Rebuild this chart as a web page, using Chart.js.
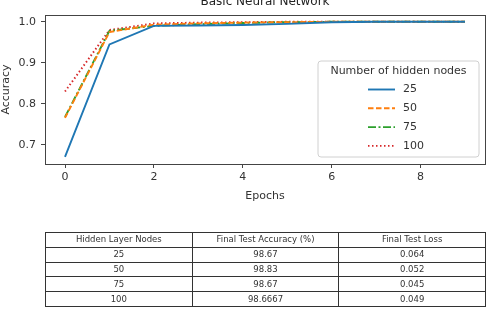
<!DOCTYPE html>
<html>
<head>
<meta charset="utf-8">
<script src="https://cdn.jsdelivr.net/npm/chart.js@4.4.0/dist/chart.umd.min.js"></script>
<style>
  html, body { margin: 0; padding: 0; background: #fff; }
  #wrap { position: relative; width: 492px; height: 313px; overflow: hidden; }
  #chart { position: absolute; left: 0; top: 0; }
  #results {
    position: absolute; left: 45px; top: 232px; width: 441px;
    table-layout: fixed;
    border-collapse: collapse; border: 1.5px solid #222;
    font-family: "DejaVu Sans", sans-serif; font-size: 8.5px; color: #333;
  }
  #results td { width: 33.33%; border: 1px solid #333; height: 13.8px; padding: 0; text-align: center; line-height: 13px; }
</style>
</head>
<body>
<div id="wrap">
  <canvas id="chart" width="492" height="313"></canvas>
  <table id="results"></table>
</div>
<script>
// data
const epochs = [0, 1, 2, 3, 4, 5, 6, 7, 8, 9];
const hiddenNodes = ['25', '50', '75', '100'];
const acc25  = [0.671, 0.945, 0.990, 0.991, 0.992, 0.995, 0.999, 1.0, 1.0, 1.0];
const acc50  = [0.766, 0.975, 0.993, 0.996, 0.998, 0.999, 1.0, 1.0, 1.0, 1.0];
const acc75  = [0.768, 0.978, 0.990, 0.994, 0.997, 0.999, 1.0, 1.0, 1.0, 1.0];
const acc100 = [0.830, 0.980, 0.996, 0.998, 0.999, 1.0, 1.0, 1.0, 1.0, 1.0];
const xTicks = [0, 2, 4, 6, 8];
const yTicks = [0.7, 0.8, 0.9, 1.0];

// summary table
const tableHeader = ['Hidden Layer Nodes', 'Final Test Accuracy (%)', 'Final Test Loss'];
const finalAccuracy = ['98.67', '98.83', '98.67', '98.6667'];
const finalLoss = ['0.064', '0.052', '0.045', '0.049'];

const colors = ['#1f77b4', '#ff7f0e', '#2ca02c', '#d62728'];
const dashes = [[], [5.5, 2.5], [8, 2.5, 2, 2.5], [1.5, 2.5]];
const series = [acc25, acc50, acc75, acc100];
const font = 'DejaVu Sans';

const table = document.getElementById('results');
const rows = [tableHeader].concat(hiddenNodes.map((n, i) => [n, finalAccuracy[i], finalLoss[i]]));
rows.forEach(r => {
  const tr = document.createElement('tr');
  r.forEach(c => { const td = document.createElement('td'); td.textContent = c; tr.appendChild(td); });
  table.appendChild(tr);
});

const framePlugin = {
  id: 'frame',
  afterDraw(chart) {
    const { ctx, chartArea: a } = chart;
    ctx.save();
    ctx.strokeStyle = '#444';
    ctx.lineWidth = 1;
    ctx.strokeRect(a.left + 0.5, a.top + 0.5, a.right - a.left, a.bottom - a.top);

    // title, partly above the canvas
    ctx.fillStyle = '#222';
    ctx.font = '12px "' + font + '"';
    ctx.textAlign = 'center';
    ctx.textBaseline = 'alphabetic';
    ctx.fillText('Basic Neural Network', (a.left + a.right) / 2, 5);

    // legend
    const bw = 161, bh = 96;
    const bx = a.right - 6 - bw, by = a.bottom - 7 - bh;
    ctx.beginPath();
    ctx.roundRect(bx, by, bw, bh, 3);
    ctx.fillStyle = 'rgba(255,255,255,0.8)';
    ctx.fill();
    ctx.strokeStyle = '#d0d0d0';
    ctx.stroke();
    ctx.fillStyle = '#333';
    ctx.font = '11px "' + font + '"';
    ctx.textBaseline = 'middle';
    ctx.fillText('Number of hidden nodes', bx + bw / 2, by + 10);
    chart.data.datasets.forEach((ds, i) => {
      const y = by + 28.5 + i * 18.8;
      ctx.beginPath();
      ctx.setLineDash(ds.borderDash);
      ctx.strokeStyle = ds.borderColor;
      ctx.lineWidth = ds.borderWidth;
      ctx.moveTo(bx + 50, y);
      ctx.lineTo(bx + 77, y);
      ctx.stroke();
      ctx.setLineDash([]);
      ctx.fillStyle = '#333';
      ctx.textAlign = 'left';
      ctx.fillText(ds.label, bx + 85, y);
    });
    ctx.restore();
  }
};

new Chart(document.getElementById('chart'), {
  type: 'line',
  data: {
    datasets: series.map((s, i) => ({
      label: hiddenNodes[i],
      data: epochs.map((e, j) => ({ x: e, y: s[j] })),
      borderColor: colors[i],
      borderDash: dashes[i],
      borderWidth: 1.9,
      pointRadius: 0,
      tension: 0,
      fill: false
    }))
  },
  options: {
    responsive: false,
    animation: false,
    layout: { padding: { left: 0, right: 7, top: 15, bottom: 110 } },
    plugins: { legend: { display: false }, tooltip: { enabled: false } },
    scales: {
      x: {
        type: 'linear',
        min: -0.45, max: 9.45,
        afterBuildTicks: s => { s.ticks = xTicks.map(v => ({ value: v })); },
        afterFit: s => { s.height = 39; },
        grid: { drawOnChartArea: false, drawTicks: true, tickLength: 4, color: '#444' },
        border: { color: '#444' },
        ticks: { color: '#333', font: { family: font, size: 11 }, padding: 3, maxRotation: 0 },
        title: { display: true, text: 'Epochs', color: '#333', font: { family: font, size: 11 }, padding: 0 }
      },
      y: {
        min: 0.6535, max: 1.0165,
        afterBuildTicks: s => { s.ticks = yTicks.map(v => ({ value: v })); },
        afterFit: s => { s.width = 45; },
        grid: { drawOnChartArea: false, drawTicks: true, tickLength: 4, color: '#444' },
        border: { color: '#444' },
        ticks: { color: '#333', font: { family: font, size: 11 }, padding: 5, callback: v => v.toFixed(1) },
        title: { display: true, text: 'Accuracy', color: '#333', font: { family: font, size: 11 }, padding: 0 }
      }
    }
  },
  plugins: [framePlugin]
});
</script>
</body>
</html>
